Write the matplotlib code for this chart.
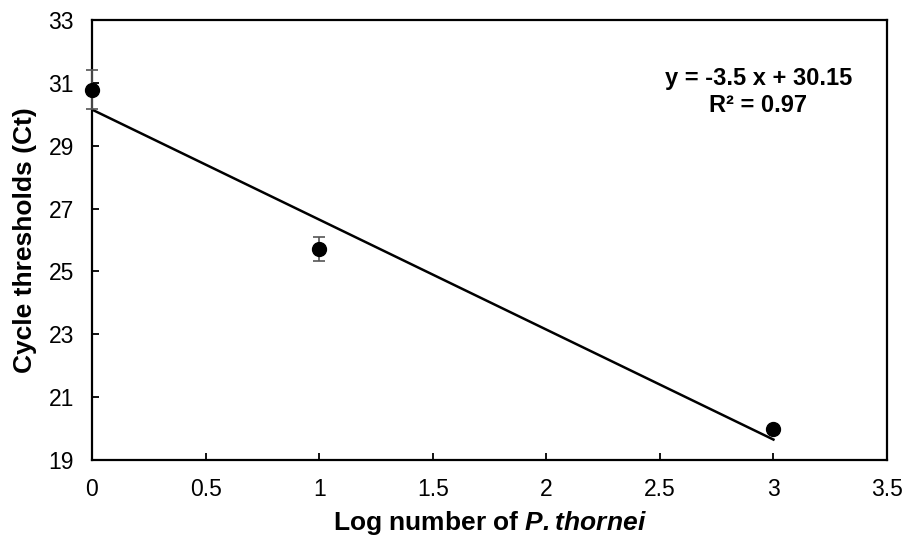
import matplotlib
matplotlib.use("Agg")
import matplotlib.pyplot as plt

plt.rcParams["font.family"] = ["Liberation Sans", "DejaVu Sans"]
plt.rcParams["mathtext.fontset"] = "custom"
plt.rcParams["mathtext.bfit"] = "Liberation Sans:italic:bold"
plt.rcParams["mathtext.bf"] = "Liberation Sans:bold"
plt.rcParams["mathtext.rm"] = "Liberation Sans"

# data
log_counts = [0, 1, 3]
ct_mean = [30.78, 25.72, 19.99]
ct_err = [0.62, 0.38, 0.0]

slope = -3.5
intercept = 30.15
fit_x = [0, 3]

x_ticks = [0, 0.5, 1, 1.5, 2, 2.5, 3, 3.5]
y_ticks = [19, 21, 23, 25, 27, 29, 31, 33]

fig = plt.figure(figsize=(9.09, 5.42), dpi=100)
ax = fig.add_axes([0.1012, 0.1513, 0.8746, 0.8118])

fit_y = [slope * x + intercept for x in fit_x]
ax.plot(fit_x, fit_y, color="black", lw=1.8, zorder=2)

ax.errorbar(log_counts, ct_mean, yerr=ct_err, fmt="o", color="black",
            ms=10, ecolor="#555555", elinewidth=1.2, capsize=4, capthick=1.2,
            zorder=3, clip_on=False)

ax.set_xlim(0, 3.5)
ax.set_ylim(19, 33)
ax.set_xticks(x_ticks)
ax.set_xticklabels([f"{t:g}" for t in x_ticks])
ax.set_yticks(y_ticks)
ax.tick_params(direction="in", length=5, width=1.3, labelsize=16.5, pad=13)

for sp in ax.spines.values():
    sp.set_linewidth(1.6)

ax.set_xlabel("Log number of $\\bfit{P. thornei}$", fontsize=19, fontweight="bold", labelpad=6)
ax.set_ylabel("Cycle thresholds (Ct)", fontsize=19, fontweight="bold", labelpad=8)

# fit equation, two centred lines
ax.text(2.934, 30.93, "y = -3.5 x + 30.15", ha="center", va="baseline",
        fontsize=17, fontweight="bold")
ax.text(2.934, 30.07, "R² = 0.97", ha="center", va="baseline",
        fontsize=17, fontweight="bold")

fig.savefig("out.png", dpi=100)
